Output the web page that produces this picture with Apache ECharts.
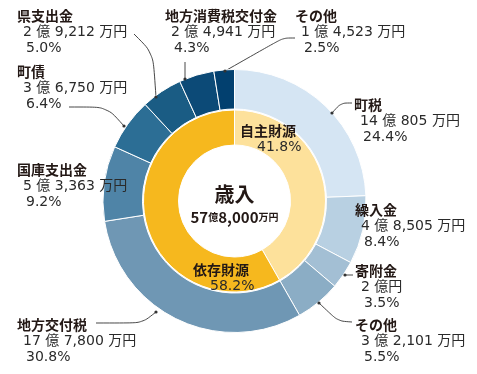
<!DOCTYPE html>
<html><head><meta charset="utf-8">
<script src="https://cdn.jsdelivr.net/npm/echarts@6/dist/echarts.min.js"></script>
<style>html,body{margin:0;padding:0;background:#fff}#c{width:477px;height:374px}</style>
</head><body><div id="c"></div>
<script>
// ---- data ----
const categories = ['町税','繰入金','寄附金','その他','地方交付税','国庫支出金','町債','県支出金','地方消費税交付金','その他'];
const amounts = [140805, 48505, 20000, 32101, 177800, 53363, 36750, 29212, 24941, 14523]; // 万円
const percents = ['24.4','8.4','3.5','5.5','30.8','9.2','6.4','5.0','4.3','2.5'];
const groups = ['自主財源','依存財源'];
const groupAmounts = [241411, 336589]; // 万円
const groupPercents = ['41.8','58.2'];
const centerTitle = '歳入';

// ---- styles / layout ----
const colors = ['#d5e5f3','#b8d0e2','#a3bfd4','#8badc5','#6f97b4','#4f84a7','#2c6e95','#1a5c84','#0c4a77','#02406f'];
const groupColors = ['#fde19b','#f6b81e'];
const CX = 234.5, CY = 201;
const labelPos = [[354,97],[355,202],[355,263],[355,317],[17,317],[17,162],[17,64],[17,8],[165,8],[295,8]];
const leaders = [
  [[332,113],[341,103],[352,103]], null, [[345,275],[353,275]], [[319,303],[338,321],[352,322]],
  [[156,312],[142,323],[96,323]], null, [[124,126],[107,107],[69,107]], [[156,97],[153,53],[134,34]],
  [[185,79],[185,62]], [[225,71],[283,38],[295,38]]
];
const groupLabelPos = [[240,123],[193,262]];

const TXT = '#231815';
const JP = '"Noto Sans CJK JP"';
const NUM = '"DejaVu Sans", "Noto Sans CJK JP"';

function fmt(v){
  const oku = Math.floor(v/10000), man = v % 10000;
  return man === 0 ? `${oku} 億円` : `${oku} 億 ${man.toLocaleString('en-US')} 万円`;
}
function fmtCenter(v){
  const oku = Math.floor(v/10000), man = v % 10000;
  return `{a|${oku}}{b|億}{a|${man.toLocaleString('en-US')}}{b|万円}`;
}
const total = amounts.reduce((a,b)=>a+b,0);

const chart = echarts.init(document.getElementById('c'), null, {renderer:'canvas'});
chart.setOption({
  animation: false,
  backgroundColor: '#fff',
  series: [
    {
      type: 'pie', radius: [92, 131.5], center: [CX, CY], startAngle: 90, clockwise: true,
      avoidLabelOverlap: false, silent: true,
      itemStyle: { borderColor: '#fff', borderWidth: 1 },
      label: {
        show: true, position: 'outside', width: 170, overflow: 'none',
        formatter: p => `{n|${p.name}}\n{v|${fmt(amounts[p.dataIndex])}}\n{p|${percents[p.dataIndex]}%}`,
        rich: {
          n: { fontFamily: JP, fontWeight: 'bold', fontSize: 14, lineHeight: 16, color: TXT },
          v: { fontFamily: NUM, fontSize: 14, lineHeight: 16, color: '#2a2a2a', padding: [0,0,0,6] },
          p: { fontFamily: NUM, fontSize: 14, lineHeight: 17, color: '#2a2a2a', padding: [0,0,0,9] }
        }
      },
      labelLine: { show: true, smooth: 0.3, lineStyle: { color: '#333', width: 0.9 } },
      labelLayout: p => {
        const i = p.dataIndex;
        const o = { x: labelPos[i][0], y: labelPos[i][1], align: 'left', verticalAlign: 'top' };
        if (leaders[i]) o.labelLinePoints = leaders[i];
        return o;
      },
      data: categories.map((n, i) => ({
        name: n, value: amounts[i], itemStyle: { color: colors[i] },
        labelLine: { show: !!leaders[i] }
      }))
    },
    {
      type: 'pie', radius: [56, 91], center: [CX, CY], startAngle: 90, clockwise: true,
      avoidLabelOverlap: false, silent: true,
      itemStyle: { borderColor: '#fff', borderWidth: 1 },
      label: {
        show: true, position: 'inside', width: 120, overflow: 'none',
        formatter: p => `{n|${p.name}}\n{p|${groupPercents[p.dataIndex]}%}`,
        rich: {
          n: { fontFamily: JP, fontWeight: 'bold', fontSize: 14, lineHeight: 16, color: TXT },
          p: { fontFamily: NUM, fontSize: 14, lineHeight: 16, color: '#2a2a2a', padding: [0,0,0,17] }
        }
      },
      labelLine: { show: false },
      labelLayout: p => ({ x: groupLabelPos[p.dataIndex][0], y: groupLabelPos[p.dataIndex][1], align: 'left', verticalAlign: 'top' }),
      data: groups.map((n, i) => ({ name: n, value: groupAmounts[i], itemStyle: { color: groupColors[i] } }))
    }
  ],
  graphic: [
    { type: 'text', x: CX, y: 194, style: { text: centerTitle, font: 'bold 20px ' + JP, fill: TXT, align: 'center', verticalAlign: 'middle' } },
    { type: 'text', x: CX, y: 217, style: { text: fmtCenter(total), fill: TXT, align: 'center', verticalAlign: 'middle',
        rich: { a: { fontFamily: JP, fontWeight: 'bold', fontSize: 15, color: TXT }, b: { fontFamily: JP, fontWeight: 'bold', fontSize: 10, color: TXT } } } }
  ].concat(leaders.filter(l => l).map(l => ({ type: 'circle', shape: { cx: l[0][0], cy: l[0][1], r: 1.6 }, style: { fill: '#333' }, z: 10 })))
});
</script>
</body></html>
